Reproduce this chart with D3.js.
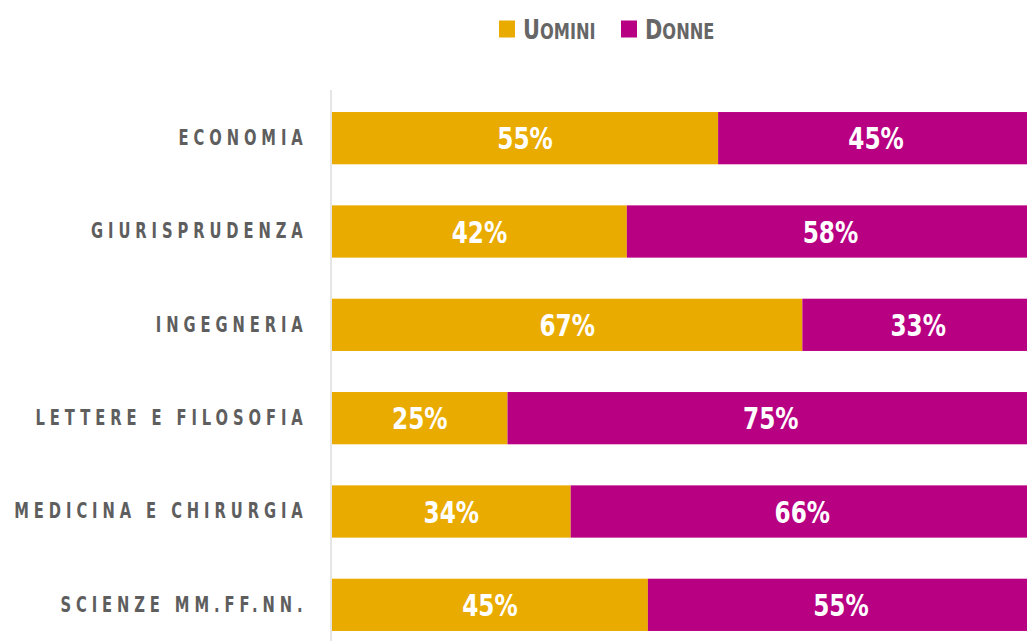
<!DOCTYPE html>
<html>
<head>
<meta charset="utf-8">
<script src="https://cdn.jsdelivr.net/npm/d3@7"></script>
<style>
  body { margin: 0; background: #fff; }
  svg { display: block; }
  .cat { font-family: "DejaVu Sans Condensed", "DejaVu Sans", sans-serif; font-weight: bold; fill: #5e5e5e; }
  .val { font-family: "DejaVu Sans Condensed", "DejaVu Sans", sans-serif; font-weight: bold; fill: #fff; }
  .leg { font-family: "DejaVu Sans Condensed", "DejaVu Sans", sans-serif; font-weight: bold; fill: #666; }
</style>
</head>
<body>
<svg id="chart" width="1027" height="641"></svg>
<script>
// dati
var categories = ["ECONOMIA", "GIURISPRUDENZA", "INGEGNERIA", "LETTERE E FILOSOFIA", "MEDICINA E CHIRURGIA", "SCIENZE MM.FF.NN."];
var uomini = [55, 42, 67, 25, 34, 45];
var donne = [45, 58, 33, 75, 66, 55];
var seriesNames = ["Uomini", "Donne"];
var seriesColors = ["#EAAB00", "#B80083"];

var svg = d3.select("#chart");

var rows = categories.map(function (c, i) {
    return {cat: c, Uomini: uomini[i], Donne: donne[i]};
});
var stack = d3.stack().keys(seriesNames)(rows);

var x = d3.scaleLinear().domain([0, 100]).range([332, 1034]);
var y = d3.scaleBand().domain(categories).range([91.5, 651.5]).paddingInner(0.44).paddingOuter(0.22);
var color = d3.scaleOrdinal().domain(seriesNames).range(seriesColors);

// barre
var layers = svg.append("g").selectAll("g")
    .data(stack)
    .enter().append("g")
    .attr("fill", function (d) { return color(d.key); });

layers.selectAll("rect")
    .data(function (d) { return d; })
    .enter().append("rect")
    .attr("x", function (d) { return x(d[0]); })
    .attr("y", function (d) { return y(d.data.cat); })
    .attr("width", function (d) { return x(d[1]) - x(d[0]); })
    .attr("height", y.bandwidth());

// etichette valori (condensate in orizzontale)
layers.selectAll("text")
    .data(function (d) { return d; })
    .enter().append("text")
    .attr("class", "val")
    .attr("transform", function (d) {
        var cx = (x(d[0]) + x(d[1])) / 2,
            cy = y(d.data.cat) + y.bandwidth() / 2;
        return "translate(" + cx + "," + cy + ") scale(0.86,1)";
    })
    .attr("dy", "0.37em")
    .attr("text-anchor", "middle")
    .style("font-size", "30px")
    .text(function (d) { return (d[1] - d[0]) + "%"; });

// asse
var axis = svg.append("g")
    .attr("transform", "translate(331,0)")
    .call(d3.axisLeft(y).tickSize(0).tickPadding(30));
axis.select(".domain").remove();
axis.append("line")
    .attr("x1", 0).attr("x2", 0)
    .attr("y1", 90).attr("y2", 641)
    .attr("stroke", "#ddd").attr("stroke-width", 1.5);
axis.selectAll(".tick text")
    .attr("class", "cat")
    .attr("font-family", null)
    .attr("transform", "scale(0.78,1)")
    .style("font-size", "21px")
    .style("letter-spacing", "6.3px");

// legenda
var legX = [499, 621];
var legend = svg.append("g").selectAll("g")
    .data(seriesNames)
    .enter().append("g");

legend.append("rect")
    .attr("x", function (d, i) { return legX[i]; })
    .attr("y", 20.5)
    .attr("width", 16).attr("height", 17)
    .attr("fill", function (d) { return color(d); });

var lt = legend.append("text")
    .attr("class", "leg")
    .attr("transform", function (d, i) { return "translate(" + (legX[i] + 24) + ",39) scale(0.86,1)"; });
lt.append("tspan").style("font-size", "27px").text(function (d) { return d[0].toUpperCase(); });
lt.append("tspan").style("font-size", "21px").text(function (d) { return d.slice(1).toUpperCase(); });
</script>
</body>
</html>
